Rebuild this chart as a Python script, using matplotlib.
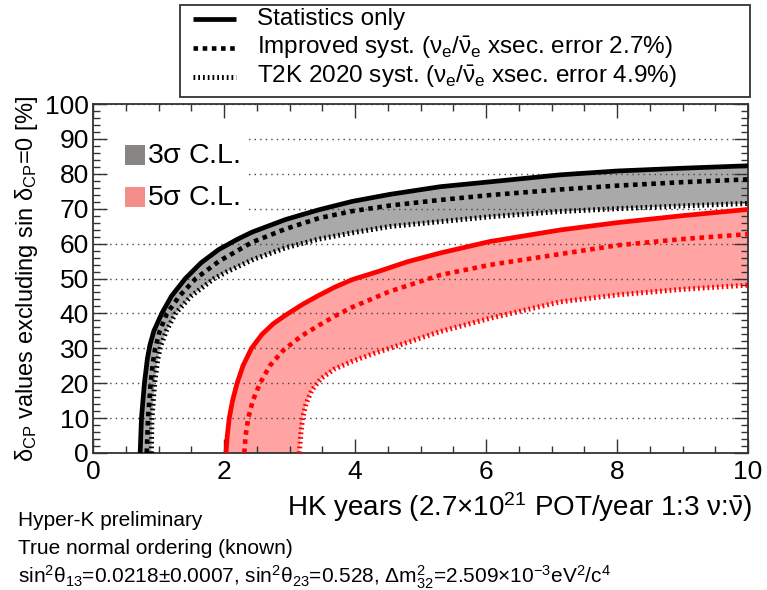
import matplotlib
matplotlib.use('Agg')
import matplotlib.pyplot as plt
from matplotlib.patches import Rectangle
from matplotlib.lines import Line2D
from matplotlib.ticker import MultipleLocator
import numpy as np

plt.rcParams['font.family'] = ['Liberation Sans', 'DejaVu Sans']
plt.rcParams['mathtext.fontset'] = 'custom'
plt.rcParams['mathtext.rm'] = 'Liberation Sans'
plt.rcParams['mathtext.it'] = 'Liberation Sans'
plt.rcParams['mathtext.sf'] = 'Liberation Sans'
plt.rcParams['mathtext.bf'] = 'Liberation Sans:bold'

# ---------------- data (HK years -> % of delta_CP values excluding sin dCP = 0) ----
# 3 sigma
x_stat3 = [0.72, 0.74, 0.785, 0.83, 0.87, 0.93, 1.05, 1.2, 1.41, 1.65, 1.92, 2.2, 2.43, 2.94, 3.45,
           3.96, 4.53, 5.3, 6.06, 7.13, 8.0, 9.0, 10.0]
y_stat3 = [0, 10, 20, 27, 31, 35, 40, 45, 50, 54.5, 58.3, 61.2, 63.3, 66.9, 69.7,
           72.1, 74.1, 76.3, 77.7, 79.7, 80.8, 81.6, 82.3]
x_impr3 = [0.82, 0.84, 0.88, 0.915, 0.95, 1.02, 1.13, 1.32, 1.57, 1.92, 2.43, 2.94, 3.45, 3.96,
           4.53, 5.3, 6.06, 7.13, 8.0, 9.0, 10.0]
y_impr3 = [0, 10, 20, 26, 30, 35, 40, 45, 50, 54.9, 60.4, 64.2, 67.3, 69.3,
           70.9, 72.5, 73.9, 75.5, 76.6, 77.6, 78.4]
x_t2k3 = [0.89, 0.90, 0.94, 0.99, 1.03, 1.12, 1.26, 1.5, 1.85, 2.05, 2.45, 2.94, 3.45, 3.96,
          4.53, 5.3, 6.06, 7.13, 8.0, 9.0, 10.0]
y_t2k3 = [0, 10, 20, 27, 30.5, 35, 40, 45, 50, 52.0, 55.5, 58.8, 61.3, 63.1,
          64.9, 66.3, 67.7, 69.2, 70.0, 70.8, 71.5]
# 5 sigma
x_stat5 = [2.03, 2.05, 2.08, 2.13, 2.2, 2.29, 2.42, 2.58, 2.75, 2.94, 3.2, 3.45, 3.7, 3.96, 4.37,
           4.8, 5.3, 6.06, 7.13, 8.0, 9.0, 10.0]
y_stat5 = [0, 5, 10, 15, 20, 25, 30, 34, 37, 39.5, 42.6, 45.2, 47.6, 49.7, 52.1,
           54.8, 57.3, 60.6, 63.9, 66.0, 68.0, 69.8]
x_impr5 = [2.31, 2.33, 2.37, 2.44, 2.55, 2.7, 2.91, 3.18, 3.45, 3.7, 3.96, 4.53, 5.3, 6.06,
           7.13, 8.0, 9.0, 10.0]
y_impr5 = [0, 5, 10, 15, 20, 25, 29.5, 33.5, 36.6, 39.3, 41.8, 46.3, 51.0, 53.9,
           57.0, 59.5, 61.3, 62.7]
x_t2k5 = [3.15, 3.17, 3.2, 3.25, 3.34, 3.48, 3.68, 3.96, 4.3, 4.53, 5.3, 6.06, 7.13, 8.0, 9.0, 10.0]
y_t2k5 = [0, 5, 10, 14, 18, 21.3, 24, 26.3, 28.6, 30.0, 34.8, 38.6, 43.3, 45.3, 46.9, 48.1]

legend_labels = ['Statistics only',
                 r'Improved syst. ($\nu_{e}/\bar{\nu}_{e}$ xsec. error 2.7%)',
                 r'T2K 2020 syst. ($\nu_{e}/\bar{\nu}_{e}$ xsec. error 4.9%)']
cl_labels = [r'3$\sigma$ C.L.', r'5$\sigma$ C.L.']

# ---------------- figure ----------------
W, H = 767, 590
fx = lambda px: px / W
fy = lambda py: 1 - py / H

fig = plt.figure(figsize=(W / 100, H / 100), dpi=100)
ax = fig.add_axes([fx(93), fy(453), (748 - 93) / W, (453 - 104) / H])

gray_fill = '#a9a9a9'
pink_fill = '#ffa3a3'
red = '#ff0000'

ax.fill(np.concatenate([x_stat3, x_t2k3[::-1]]), np.concatenate([y_stat3, y_t2k3[::-1]]),
        color=gray_fill, lw=0, zorder=1)
ax.fill(np.concatenate([x_stat5, x_t2k5[::-1]]), np.concatenate([y_stat5, y_t2k5[::-1]]),
        color=pink_fill, lw=0, zorder=1)

ls_solid = '-'
ls_dash = (0, (1, 1))
ls_dot = (0, (0.35, 0.6))
kw = dict(solid_capstyle='butt', dash_capstyle='butt', solid_joinstyle='round', zorder=3)
for (xs, ys, ls, lw), col in [((x_stat3, y_stat3, ls_solid, 3.4), 'black'),
                               ((x_impr3, y_impr3, ls_dash, 3.3), 'black'),
                               ((x_t2k3, y_t2k3, ls_dot, 3.6), 'black'),
                               ((x_stat5, y_stat5, ls_solid, 3.4), red),
                               ((x_impr5, y_impr5, ls_dash, 3.3), red),
                               ((x_t2k5, y_t2k5, ls_dot, 3.6), red)]:
    ax.plot(xs, ys, color=col, lw=lw, ls=ls, **kw)

ax.set_xlim(0, 10)
ax.set_ylim(0, 100)
ax.xaxis.set_major_locator(MultipleLocator(2))
ax.xaxis.set_minor_locator(MultipleLocator(0.5))
ax.yaxis.set_major_locator(MultipleLocator(10))
ax.yaxis.set_minor_locator(MultipleLocator(2))
ax.tick_params(which='both', direction='in', top=True, right=True, color='#333333', width=1.0)
ax.tick_params(which='major', length=10, labelsize=19)
ax.tick_params(which='minor', length=5)
ax.tick_params(axis='x', pad=5)
ax.tick_params(axis='y', pad=3)
for s in ax.spines.values():
    s.set_linewidth(1.3)
    s.set_color('#333333')

ax.set_axisbelow('line')
ax.yaxis.grid(True, which='major', color='#444444', lw=1.0, ls=(0, (1, 3)))

# white box behind the C.L. legend (hides gridlines)
ax.add_patch(Rectangle((fx(108), fy(216)), (246 - 108) / W, (216 - 128) / H,
                       transform=fig.transFigure, facecolor='white', edgecolor='none', zorder=2.8))
# C.L. legend
for (top, col), lab in zip([(145, '#898585'), (187, '#f48e8a')], cl_labels):
    ax.add_patch(Rectangle((fx(125), fy(top + 20)), 20 / W, 20 / H, transform=fig.transFigure,
                           facecolor=col, edgecolor='none', zorder=3.5))
    ax.text(fx(147), fy(top + 11), lab, transform=fig.transFigure, fontsize=20.5,
            va='center', ha='left', zorder=4)

# top legend
fig.patches.append(Rectangle((fx(180), fy(97)), (750 - 180) / W, (97 - 5) / H, transform=fig.transFigure,
                             fill=False, edgecolor='#333333', lw=1.3))
for yy, ls, lw, lab in zip([19, 48, 77], [ls_solid, ls_dash, ls_dot], [3.4, 3.3, 3.6], legend_labels):
    fig.lines.append(Line2D([fx(193), fx(236)], [fy(yy), fy(yy)], transform=fig.transFigure,
                            color='black', lw=lw, ls=ls, solid_capstyle='butt', dash_capstyle='butt'))
    fig.text(fx(257), fy(yy), lab, fontsize=17.5, va='center', ha='left')

# axis titles
fig.text(fx(752), fy(507), r'HK years (2.7$\times$10$^{21}$ POT/year 1:3 $\nu$:$\bar{\nu}$)',
         ha='right', va='center', fontsize=20)
fig.text(fx(27), fy(279), r'$\delta_{\mathrm{CP}}$ values excluding sin $\delta_{\mathrm{CP}}$=0 [%]',
         rotation=90, ha='center', va='center', fontsize=17)

# annotations
fig.text(fx(18), fy(521), 'Hyper-K preliminary', fontsize=15, va='center', ha='left')
fig.text(fx(18), fy(549), 'True normal ordering (known)', fontsize=15, va='center', ha='left')
fig.text(fx(18), fy(577),
         r'sin$^{2}\theta_{13}$=0.0218$\pm$0.0007, sin$^{2}\theta_{23}$=0.528, '
         r'$\Delta$m$^{2}_{32}$=2.509$\times$10$^{-3}$eV$^{2}$/c$^{4}$',
         fontsize=15, va='center', ha='left')

fig.savefig('out.png', dpi=100)
